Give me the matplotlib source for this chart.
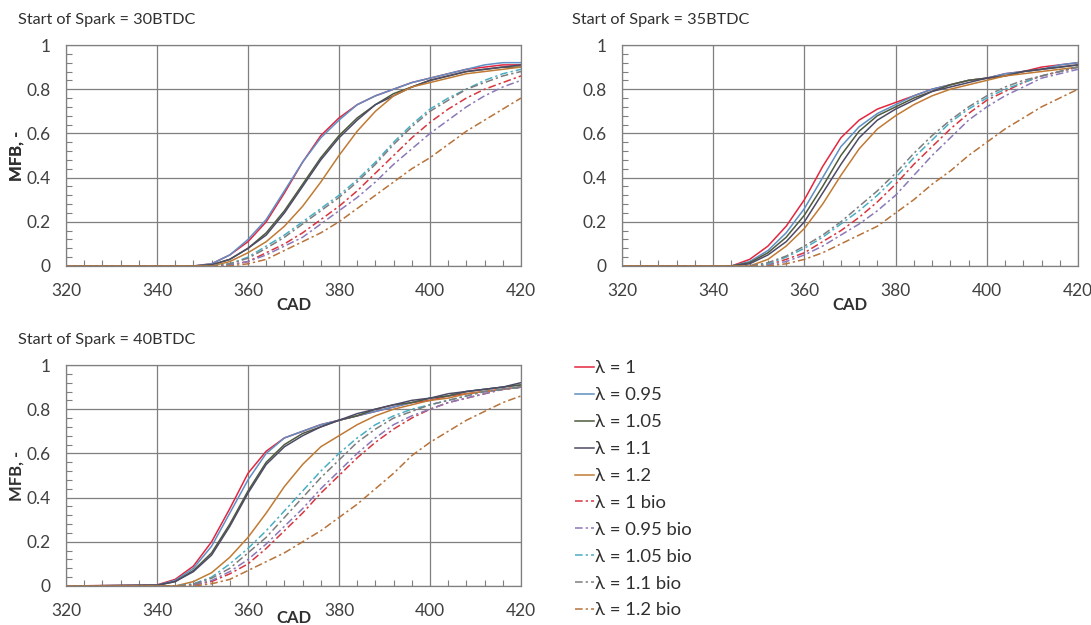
import matplotlib
matplotlib.use("Agg")
import matplotlib.pyplot as plt
from matplotlib.ticker import MultipleLocator

plt.rcParams['font.family'] = ['Lato', 'DejaVu Sans']

# crank angle grid shared by all curves
cad = [320, 340, 344, 348, 352, 356, 360, 364, 368, 372, 376, 380,
       384, 388, 392, 396, 400, 404, 408, 412, 416, 420]

labels = ["λ = 1", "λ = 0.95", "λ = 1.05", "λ = 1.1", "λ = 1.2",
          "λ = 1 bio", "λ = 0.95 bio", "λ = 1.05 bio", "λ = 1.1 bio", "λ = 1.2 bio"]
colors = ["#e3263f", "#5f8fc4", "#4e5b3c", "#4d4a66", "#c07a33",
          "#d8363f", "#8a78b8", "#4aaec4", "#7d7d7d", "#b8733a"]

# mass fraction burned, spark at 30 BTDC
mfb_30 = [
    [0, 0, 0, 0, 0.01, 0.05, 0.11, 0.20, 0.33, 0.47, 0.59, 0.67, 0.73, 0.77, 0.80, 0.83, 0.85, 0.87, 0.89, 0.90, 0.91, 0.91],
    [0, 0, 0, 0, 0.01, 0.05, 0.12, 0.21, 0.34, 0.47, 0.58, 0.66, 0.73, 0.77, 0.80, 0.83, 0.85, 0.87, 0.89, 0.91, 0.92, 0.92],
    [0, 0, 0, 0, 0.005, 0.03, 0.08, 0.15, 0.25, 0.37, 0.49, 0.59, 0.67, 0.73, 0.78, 0.81, 0.84, 0.86, 0.88, 0.89, 0.90, 0.90],
    [0, 0, 0, 0, 0.005, 0.03, 0.08, 0.14, 0.24, 0.36, 0.48, 0.58, 0.66, 0.73, 0.77, 0.81, 0.84, 0.86, 0.88, 0.89, 0.90, 0.91],
    [0, 0, 0, 0, 0, 0.02, 0.06, 0.11, 0.18, 0.27, 0.38, 0.50, 0.61, 0.70, 0.77, 0.81, 0.83, 0.85, 0.87, 0.88, 0.89, 0.90],
    [0, 0, 0, 0, 0, 0.005, 0.02, 0.06, 0.10, 0.15, 0.21, 0.27, 0.34, 0.42, 0.50, 0.58, 0.65, 0.71, 0.76, 0.80, 0.83, 0.86],
    [0, 0, 0, 0, 0, 0.005, 0.02, 0.05, 0.09, 0.13, 0.19, 0.25, 0.31, 0.38, 0.46, 0.53, 0.60, 0.66, 0.72, 0.77, 0.81, 0.84],
    [0, 0, 0, 0, 0, 0.01, 0.04, 0.09, 0.14, 0.20, 0.26, 0.32, 0.39, 0.47, 0.56, 0.64, 0.71, 0.76, 0.80, 0.84, 0.87, 0.89],
    [0, 0, 0, 0, 0, 0.01, 0.035, 0.08, 0.13, 0.19, 0.25, 0.31, 0.38, 0.46, 0.55, 0.63, 0.70, 0.75, 0.80, 0.83, 0.86, 0.88],
    [0, 0, 0, 0, 0, 0, 0.01, 0.03, 0.07, 0.11, 0.15, 0.20, 0.26, 0.32, 0.38, 0.44, 0.49, 0.55, 0.61, 0.66, 0.71, 0.76],
]

# spark at 35 BTDC
mfb_35 = [
    [0, 0, 0, 0.03, 0.09, 0.18, 0.30, 0.45, 0.58, 0.66, 0.71, 0.74, 0.77, 0.80, 0.82, 0.84, 0.85, 0.87, 0.88, 0.90, 0.91, 0.92],
    [0, 0, 0, 0.02, 0.07, 0.15, 0.26, 0.40, 0.54, 0.63, 0.69, 0.73, 0.77, 0.80, 0.82, 0.84, 0.85, 0.87, 0.88, 0.89, 0.91, 0.92],
    [0, 0, 0, 0.015, 0.06, 0.13, 0.23, 0.36, 0.50, 0.61, 0.68, 0.72, 0.76, 0.79, 0.82, 0.84, 0.85, 0.86, 0.88, 0.89, 0.90, 0.91],
    [0, 0, 0, 0.01, 0.05, 0.11, 0.20, 0.33, 0.46, 0.58, 0.66, 0.71, 0.75, 0.79, 0.81, 0.83, 0.85, 0.86, 0.88, 0.89, 0.90, 0.91],
    [0, 0, 0, 0, 0.03, 0.09, 0.17, 0.28, 0.41, 0.53, 0.62, 0.68, 0.73, 0.77, 0.80, 0.82, 0.84, 0.86, 0.87, 0.88, 0.89, 0.90],
    [0, 0, 0, 0, 0.005, 0.03, 0.06, 0.11, 0.16, 0.22, 0.29, 0.37, 0.46, 0.54, 0.62, 0.69, 0.75, 0.79, 0.83, 0.86, 0.88, 0.90],
    [0, 0, 0, 0, 0.005, 0.02, 0.05, 0.09, 0.14, 0.19, 0.25, 0.32, 0.41, 0.50, 0.58, 0.66, 0.72, 0.77, 0.81, 0.85, 0.87, 0.89],
    [0, 0, 0, 0, 0.01, 0.04, 0.08, 0.13, 0.19, 0.25, 0.32, 0.40, 0.49, 0.57, 0.65, 0.71, 0.76, 0.80, 0.83, 0.86, 0.88, 0.90],
    [0, 0, 0, 0, 0.015, 0.045, 0.09, 0.14, 0.20, 0.27, 0.34, 0.42, 0.51, 0.59, 0.66, 0.72, 0.77, 0.81, 0.84, 0.86, 0.88, 0.90],
    [0, 0, 0, 0, 0, 0.01, 0.03, 0.06, 0.10, 0.14, 0.18, 0.24, 0.30, 0.37, 0.43, 0.50, 0.56, 0.62, 0.67, 0.72, 0.76, 0.80],
]

# spark at 40 BTDC
mfb_40 = [
    [0, 0.005, 0.03, 0.09, 0.20, 0.35, 0.51, 0.61, 0.67, 0.70, 0.73, 0.75, 0.77, 0.79, 0.81, 0.83, 0.84, 0.86, 0.87, 0.88, 0.89, 0.90],
    [0, 0.004, 0.025, 0.08, 0.18, 0.33, 0.48, 0.60, 0.67, 0.70, 0.73, 0.75, 0.77, 0.79, 0.81, 0.83, 0.85, 0.86, 0.88, 0.89, 0.90, 0.91],
    [0, 0.003, 0.02, 0.07, 0.15, 0.28, 0.43, 0.56, 0.64, 0.69, 0.72, 0.75, 0.77, 0.80, 0.82, 0.83, 0.85, 0.86, 0.88, 0.89, 0.90, 0.91],
    [0, 0.003, 0.02, 0.065, 0.14, 0.27, 0.42, 0.55, 0.63, 0.68, 0.72, 0.75, 0.78, 0.80, 0.82, 0.84, 0.85, 0.87, 0.88, 0.89, 0.90, 0.92],
    [0, 0, 0, 0.02, 0.06, 0.13, 0.22, 0.33, 0.45, 0.55, 0.63, 0.68, 0.73, 0.77, 0.80, 0.82, 0.84, 0.85, 0.87, 0.88, 0.89, 0.90],
    [0, 0, 0, 0.004, 0.02, 0.055, 0.10, 0.17, 0.25, 0.33, 0.42, 0.50, 0.58, 0.65, 0.71, 0.76, 0.80, 0.83, 0.85, 0.87, 0.89, 0.90],
    [0, 0, 0, 0.005, 0.025, 0.065, 0.12, 0.19, 0.27, 0.35, 0.44, 0.52, 0.60, 0.67, 0.73, 0.77, 0.80, 0.83, 0.85, 0.87, 0.89, 0.90],
    [0, 0, 0, 0.01, 0.04, 0.10, 0.17, 0.25, 0.34, 0.43, 0.52, 0.60, 0.67, 0.73, 0.77, 0.80, 0.82, 0.84, 0.86, 0.88, 0.89, 0.90],
    [0, 0, 0, 0.008, 0.035, 0.08, 0.15, 0.22, 0.31, 0.40, 0.49, 0.57, 0.65, 0.71, 0.76, 0.79, 0.82, 0.84, 0.86, 0.88, 0.89, 0.90],
    [0, 0, 0, 0, 0.01, 0.03, 0.07, 0.11, 0.15, 0.20, 0.25, 0.31, 0.37, 0.44, 0.51, 0.59, 0.65, 0.70, 0.75, 0.79, 0.83, 0.86],
]

titles = ["Start of Spark = 30BTDC", "Start of Spark = 35BTDC", "Start of Spark = 40BTDC"]

W, H = 1091, 625
fig = plt.figure(figsize=(W / 100, H / 100), dpi=100)

# axes boxes in pixels: left, top, width, height
boxes = [(66, 45, 455, 221), (622, 45, 456, 221), (66, 365, 455, 221)]
title_pos = [(18, 20), (572, 20), (18, 340)]
cad_offset = [31, 31, 24]  # distance of the CAD label below each axes

dashdot = (0, (5, 2, 1.5, 2))
handles = []
for k, (data, box) in enumerate(zip([mfb_30, mfb_35, mfb_40], boxes)):
    l, t, w, h = box
    ax = fig.add_axes([l / W, 1 - (t + h) / H, w / W, h / H])
    for i, y in enumerate(data):
        ls = '-' if i < 5 else dashdot
        ln, = ax.plot(cad, y, color=colors[i], lw=1.1, ls=ls, label=labels[i])
        if k == 0:
            handles.append(ln)
    ax.set_xlim(320, 420)
    ax.set_ylim(0, 1)
    ax.xaxis.set_major_locator(MultipleLocator(20))
    ax.xaxis.set_minor_locator(MultipleLocator(4))
    ax.yaxis.set_minor_locator(MultipleLocator(0.04))
    ax.set_yticks([0, 0.2, 0.4, 0.6, 0.8, 1.0])
    ax.set_yticklabels(["0", "0.2", "0.4", "0.6", "0.8", "1"])
    ax.grid(True, which='major', color='#7f7f7f', lw=0.9)
    ax.tick_params(which='major', length=0, labelsize=12.5, colors='#404040')
    ax.tick_params(axis='y', which='major', pad=11)
    ax.tick_params(axis='x', which='major', pad=12)
    ax.tick_params(which='minor', direction='in', length=4, color='#7f7f7f', width=0.8)
    for s in ax.spines.values():
        s.set_color('#7f7f7f')
        s.set_linewidth(0.9)
    ax.set_xlabel("CAD", fontsize=12, fontweight='bold', color='#303030')
    ax.xaxis.set_label_coords(0.5, -cad_offset[k] / h)
    ax.set_ylabel("MFB, -", fontsize=12, fontweight='bold', color='#303030')
    ax.yaxis.set_label_coords(-(l - 25) / w, 0.5)
    tx, ty = title_pos[k]
    fig.text(tx / W, 1 - ty / H, titles[k], fontsize=11.7, color='#303030', va='center', ha='left')

fig.legend(handles=handles, loc='upper left', bbox_to_anchor=(568 / W, 1 - 353 / H),
           frameon=False, fontsize=13.3, handlelength=1.0, handletextpad=0.05,
           labelspacing=0.59, borderaxespad=0, labelcolor='#303030')

fig.savefig("out.png", dpi=100)
